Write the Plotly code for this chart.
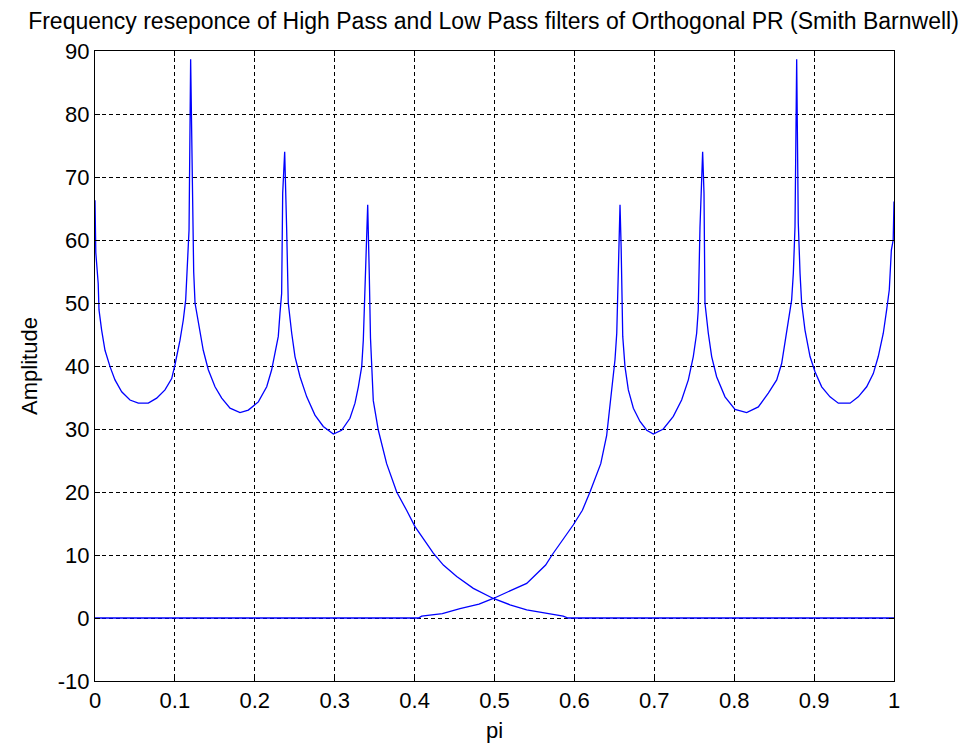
import plotly.graph_objects as go

# Low pass filter magnitude response
lp_x = [0, 0.001, 0.004, 0.005, 0.0083, 0.0125, 0.0188, 0.025, 0.0334, 0.0438, 0.0542, 0.0667,
        0.0772, 0.0876, 0.096, 0.1001, 0.1064, 0.1105, 0.1135, 0.1156, 0.1177, 0.1197, 0.1222,
        0.1235, 0.1252, 0.1293, 0.1355, 0.1418, 0.1502, 0.1586, 0.169, 0.1815, 0.1919, 0.2044,
        0.2149, 0.2211, 0.2253, 0.2294, 0.2315, 0.2336, 0.2349, 0.2374, 0.2399, 0.2419, 0.2462,
        0.2503, 0.2566, 0.265, 0.2753, 0.2857, 0.2983, 0.3087, 0.3191, 0.3254, 0.3296, 0.3338,
        0.3358, 0.3379, 0.3393, 0.3413, 0.3433, 0.3448, 0.3483, 0.3546, 0.365, 0.3776, 0.39,
        0.4005, 0.4234, 0.436, 0.4527, 0.4735, 0.4985, 0.5194, 0.5403, 0.5653, 0.586, 0.592, 1.0]
lp_y = [66.3, 58.0, 53.1, 48.9, 45.7, 42.5, 39.9, 37.8, 35.9, 34.6, 34.1, 34.1,
        34.9, 36.2, 38.0, 40.2, 44.1, 47.3, 50.5, 55.2, 61.6, 88.7, 61.6,
        55.0, 50.0, 46.8, 42.5, 39.4, 36.7, 34.9, 33.3, 32.6, 33.0, 34.3,
        36.7, 39.4, 42.0, 44.7, 48.4, 51.5, 67.4, 74.0, 61.6, 50.0, 45.2,
        41.5, 38.3, 35.1, 32.2, 30.4, 29.2, 29.8, 31.7, 34.1, 36.7, 39.9,
        44.1, 52.1, 59.5, 65.6, 54.4, 44.4, 34.5, 29.8, 24.5, 20.0, 17.1,
        14.5, 10.3, 8.4, 6.6, 4.7, 3.1, 2.1, 1.3, 0.7, 0.3, 0, 0]

# High pass filter magnitude response
hp_x = [0, 0.405, 0.4088, 0.4347, 0.4568, 0.4806, 0.4985, 0.5265, 0.5403, 0.564, 0.572, 0.5987,
        0.61, 0.6195, 0.633, 0.6404, 0.6467, 0.6508, 0.653, 0.655, 0.6571, 0.6585, 0.6605, 0.6633,
        0.6675, 0.6738, 0.6821, 0.6905, 0.6988, 0.7113, 0.7238, 0.7342, 0.7426, 0.7488, 0.753,
        0.755, 0.7572, 0.7605, 0.7622, 0.7634, 0.7676, 0.7718, 0.778, 0.7885, 0.801, 0.8156,
        0.8302, 0.8427, 0.8532, 0.8594, 0.8636, 0.8677, 0.8719, 0.874, 0.8761, 0.8782, 0.8802,
        0.8824, 0.8844, 0.8886, 0.8949, 0.9011, 0.9095, 0.9199, 0.9303, 0.945, 0.9553, 0.9658,
        0.9741, 0.9803, 0.9866, 0.9908, 0.9941, 0.9967, 0.999, 1.0]
hp_y = [0, 0, 0.3, 0.7, 1.5, 2.2, 3.1, 4.7, 5.5, 8.4, 10.0, 14.8,
        17.1, 20.0, 24.5, 29.0, 36.2, 41.0, 45.2, 54.7, 65.6, 58.9, 44.7, 39.9,
        36.2, 33.3, 31.2, 29.8, 29.2, 30.0, 32.0, 34.6, 37.8, 41.5, 45.2,
        48.9, 62.1, 74.0, 67.4, 50.0, 45.2, 41.5, 38.3, 35.1, 33.1, 32.6,
        33.5, 35.7, 37.8, 40.4, 43.6, 46.8, 50.5, 54.7, 62.1, 88.7, 62.7,
        54.7, 50.0, 45.7, 41.5, 39.1, 36.7, 35.1, 34.1, 34.1, 35.1, 36.7,
        38.8, 41.5, 45.2, 48.9, 52.1, 58.4, 60.0, 66.1]

x_ticks = [0, 0.1, 0.2, 0.3, 0.4, 0.5, 0.6, 0.7, 0.8, 0.9, 1]
x_tick_labels = ["0", "0.1", "0.2", "0.3", "0.4", "0.5", "0.6", "0.7", "0.8", "0.9", "1"]
y_ticks = [-10, 0, 10, 20, 30, 40, 50, 60, 70, 80, 90]
y_tick_labels = ["-10", "0", "10", "20", "30", "40", "50", "60", "70", "80", "90"]

FONT = "Liberation Sans"
BLUE = "#0000ff"

fig = go.Figure()
fig.add_trace(go.Scatter(x=lp_x, y=lp_y, mode="lines", line=dict(color=BLUE, width=1.3),
                         name="Low Pass", showlegend=False))
fig.add_trace(go.Scatter(x=hp_x, y=hp_y, mode="lines", line=dict(color=BLUE, width=1.3),
                         name="High Pass", showlegend=False))

axis_common = dict(
    showline=True, linecolor="black", linewidth=1, mirror="allticks",
    ticks="inside", ticklen=5, tickcolor="black", tickwidth=1,
    showgrid=True, gridcolor="black", gridwidth=1, griddash="4px,3px",
    zeroline=False, automargin=False,
    tickfont=dict(family=FONT, size=22, color="black"),
)

fig.update_layout(
    width=971, height=740,
    margin=dict(l=87, r=85, t=43, b=67),
    paper_bgcolor="white", plot_bgcolor="white",
    title=dict(text="Frequency reseponce of High Pass and Low Pass filters of Orthogonal PR (Smith Barnwell)",
               font=dict(family=FONT, size=23, color="black"),
               x=0.5, xref="container", xanchor="center",
               y=1 - 13 / 740, yref="container", yanchor="middle"),
    xaxis=dict(range=[0, 1], tickvals=x_ticks, ticktext=x_tick_labels,
               title=dict(text="pi", font=dict(family=FONT, size=22, color="black"), standoff=10),
               **axis_common),
    yaxis=dict(range=[-10, 90], tickvals=y_ticks, ticktext=y_tick_labels,
               title=dict(text="Amplitude", font=dict(family=FONT, size=22, color="black"), standoff=14),
               **axis_common),
)

fig.write_html("out.html")
